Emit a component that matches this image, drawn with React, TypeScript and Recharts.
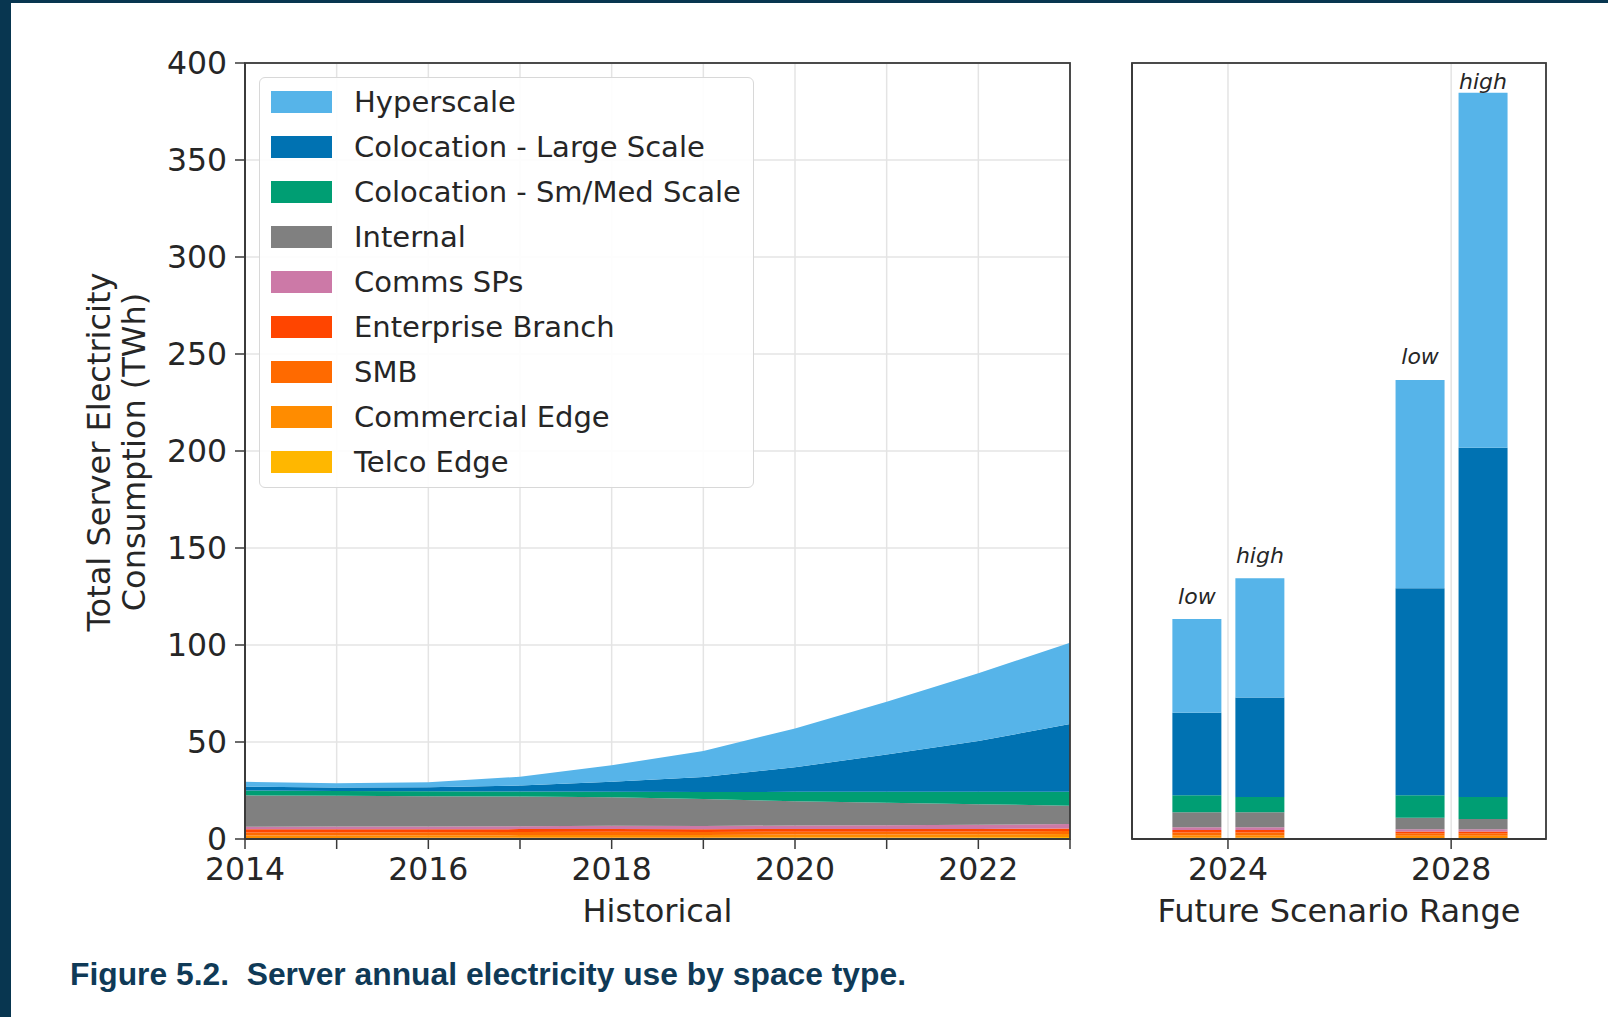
/**
 * ServerEnergyChart — historical stacked area (2014–2023) + future scenario stacked bars
 */

import React from 'react';
import {
  AreaChart,
  Area,
  BarChart,
  Bar,
  XAxis,
  YAxis,
  CartesianGrid,
  Legend,
  LabelList,
} from 'recharts';

const FONT = '"DejaVu Sans", sans-serif';
const TEXT = '#262626';
const SPINE = '#3a3a3a';
const GRID = '#e4e4e4';
const NAVY = '#083650';

// Space types, top of the stack first (legend order)
const SPACE_TYPES = [
  'Hyperscale',
  'Colocation - Large Scale',
  'Colocation - Sm/Med Scale',
  'Internal',
  'Comms SPs',
  'Enterprise Branch',
  'SMB',
  'Commercial Edge',
  'Telco Edge',
];

const COLORS: Record<string, string> = {
  'Hyperscale': '#56b4e9',
  'Colocation - Large Scale': '#0072b2',
  'Colocation - Sm/Med Scale': '#009e73',
  'Internal': '#808080',
  'Comms SPs': '#cc79a7',
  'Enterprise Branch': '#ff4500',
  'SMB': '#ff6a00',
  'Commercial Edge': '#ff8c00',
  'Telco Edge': '#ffb700',
};

const HIST_YEARS = [2014, 2015, 2016, 2017, 2018, 2019, 2020, 2021, 2022, 2023];
const Y_TICKS = [0, 50, 100, 150, 200, 250, 300, 350, 400];

// Historical TWh by space type
const hyperscale = [2.5, 2.1, 2.5, 4.5, 8.5, 13.4, 20.0, 27.3, 34.9, 41.9];
const colocationLarge = [2.0, 1.8, 2.1, 3.1, 5.2, 7.8, 12.7, 19.2, 26.1, 34.9];
const colocationSmMed = [2.5, 2.5, 2.5, 2.6, 2.8, 3.6, 4.8, 5.6, 6.5, 7.2];
const internal = [16.2, 15.9, 15.7, 15.3, 14.7, 13.9, 12.5, 11.6, 10.6, 9.5];
const commsSPs = [1.3, 1.4, 1.4, 1.5, 1.6, 1.7, 1.8, 1.9, 2.1, 2.3];
const enterpriseBranch = [1.6, 1.6, 1.5, 1.5, 1.5, 1.4, 1.4, 1.4, 1.3, 1.3];
const smb = [1.6, 1.6, 1.6, 1.6, 1.6, 1.5, 1.5, 1.5, 1.5, 1.5];
const commercialEdge = [1.3, 1.3, 1.3, 1.4, 1.4, 1.4, 1.5, 1.5, 1.5, 1.6];
const telcoEdge = [0.5, 0.5, 0.6, 0.6, 0.7, 0.7, 0.8, 0.8, 0.9, 1.0];

// Scenario years and TWh by space type: [2024, 2028]
const SCENARIO_YEARS = [2024, 2028];
const SCENARIOS = ['low', 'high'];

const hyperscaleLow = [48.3, 107.4];
const colocationLargeLow = [42.6, 106.7];
const colocationSmMedLow = [8.7, 11.5];
const internalLow = [7.8, 6.0];
const commsSPsLow = [1.4, 1.1];
const enterpriseBranchLow = [1.3, 1.0];
const smbLow = [1.4, 1.2];
const commercialEdgeLow = [1.3, 1.2];
const telcoEdgeLow = [0.6, 0.5];

const hyperscaleHigh = [61.5, 183.0];
const colocationLargeHigh = [51.3, 180.1];
const colocationSmMedHigh = [7.8, 11.3];
const internalHigh = [7.8, 5.3];
const commsSPsHigh = [1.4, 1.1];
const enterpriseBranchHigh = [1.3, 1.0];
const smbHigh = [1.4, 1.2];
const commercialEdgeHigh = [1.3, 1.2];
const telcoEdgeHigh = [0.6, 0.5];

const HISTORICAL = [
  hyperscale, colocationLarge, colocationSmMed, internal, commsSPs,
  enterpriseBranch, smb, commercialEdge, telcoEdge,
];
const SCENARIO_VALUES: Record<string, number[][]> = {
  low: [
    hyperscaleLow, colocationLargeLow, colocationSmMedLow, internalLow, commsSPsLow,
    enterpriseBranchLow, smbLow, commercialEdgeLow, telcoEdgeLow,
  ],
  high: [
    hyperscaleHigh, colocationLargeHigh, colocationSmMedHigh, internalHigh, commsSPsHigh,
    enterpriseBranchHigh, smbHigh, commercialEdgeHigh, telcoEdgeHigh,
  ],
};

const histRows = HIST_YEARS.map((year, i) => {
  const row: Record<string, number> = { year };
  SPACE_TYPES.forEach((_, s) => { row[`s${s}`] = HISTORICAL[s][i]; });
  return row;
});

const scenarioRows = SCENARIO_YEARS.map((year, i) => {
  const row: Record<string, number> = { year };
  SCENARIOS.forEach(sc => {
    SPACE_TYPES.forEach((_, s) => { row[`${sc}${s}`] = SCENARIO_VALUES[sc][s][i]; });
  });
  return row;
});

// bottom-up drawing order for stacks
const STACK_ORDER = SPACE_TYPES.map((_, s) => s).reverse();

// plot boxes (page pixels) used for chart margins and the spine frames
const PLOT_TOP = 63;
const PLOT_BOTTOM = 839;
const HIST_BOX = { left: 245, right: 1070 };
const SCEN_BOX = { left: 1132, right: 1546 };

const tickStyle = { fontSize: 31.5, fill: TEXT, fontFamily: FONT };
const tickLine = { stroke: SPINE, strokeWidth: 1.5 };
const axisLine = { stroke: SPINE, strokeWidth: 1.8 };

const LegendBox = () => (
  <div
    style={{
      width: 495,
      height: 411,
      boxSizing: 'border-box',
      border: '1.5px solid #d8d8d8',
      borderRadius: 6,
      background: 'rgba(255,255,255,0.9)',
      padding: '2px 0 0 11px',
      fontFamily: FONT,
    }}
  >
    {SPACE_TYPES.map(name => (
      <div key={name} style={{ display: 'flex', alignItems: 'center', height: 44.9 }}>
        <span style={{ width: 61, height: 22, background: COLORS[name], display: 'inline-block' }} />
        <span style={{ marginLeft: 22, fontSize: 29, color: TEXT, whiteSpace: 'nowrap' }}>{name}</span>
      </div>
    ))}
  </div>
);

const scenarioLabel = (text: string) => (props: any) => {
  const cx = Number(props.x) + Number(props.width) / 2;
  const cy = Math.max(Number(props.y) - 23, PLOT_TOP + 18);
  return (
    <text
      x={cx}
      y={cy}
      textAnchor="middle"
      dominantBaseline="central"
      fontStyle="italic"
      fontSize={22}
      fontFamily={FONT}
      fill={TEXT}
    >
      {text}
    </text>
  );
};

const HistoricalChart = () => (
  <AreaChart
    width={1080}
    height={960}
    data={histRows}
    margin={{ top: PLOT_TOP, right: 1080 - HIST_BOX.right, bottom: 960 - PLOT_BOTTOM - 60, left: HIST_BOX.left - 100 }}
  >
    <CartesianGrid stroke={GRID} strokeWidth={1.5} />
    <XAxis
      type="number"
      dataKey="year"
      domain={[2014, 2023]}
      ticks={HIST_YEARS}
      interval={0}
      tickFormatter={(v: number) => (v % 2 === 0 ? String(v) : '')}
      height={60}
      tick={tickStyle}
      tickLine={tickLine}
      axisLine={axisLine}
      tickSize={10}
      tickMargin={9}
      label={{ value: 'Historical', position: 'bottom', offset: 0, fontSize: 32, fill: TEXT, fontFamily: FONT }}
    />
    <YAxis
      type="number"
      domain={[0, 400]}
      ticks={Y_TICKS}
      width={100}
      tick={tickStyle}
      tickLine={tickLine}
      axisLine={axisLine}
      tickSize={10}
      tickMargin={8}
    />
    {STACK_ORDER.map(s => (
      <Area
        key={s}
        type="linear"
        dataKey={`s${s}`}
        name={SPACE_TYPES[s]}
        stackId="hist"
        stroke="none"
        fill={COLORS[SPACE_TYPES[s]]}
        fillOpacity={1}
        isAnimationActive={false}
      />
    ))}
    <Legend
      layout="vertical"
      align="center"
      verticalAlign="middle"
      content={() => <LegendBox />}
      wrapperStyle={{ left: 259, top: 77, width: 495, height: 411 }}
    />
  </AreaChart>
);

const ScenarioChart = () => (
  <BarChart
    width={528}
    height={960}
    data={scenarioRows}
    margin={{ top: PLOT_TOP, right: 1608 - SCEN_BOX.right, bottom: 960 - PLOT_BOTTOM - 60, left: SCEN_BOX.left - 1080 - 20 }}
    barGap={14}
  >
    <CartesianGrid stroke={GRID} strokeWidth={1.5} />
    <XAxis
      type="number"
      dataKey="year"
      domain={[2022.28, 2029.7]}
      ticks={SCENARIO_YEARS}
      interval={0}
      height={60}
      tick={tickStyle}
      tickLine={tickLine}
      axisLine={axisLine}
      tickSize={10}
      tickMargin={9}
      label={{ value: 'Future Scenario Range', position: 'bottom', offset: 0, fontSize: 32, fill: TEXT, fontFamily: FONT }}
    />
    <YAxis
      type="number"
      domain={[0, 400]}
      ticks={Y_TICKS}
      width={20}
      tick={false}
      tickLine={tickLine}
      axisLine={axisLine}
      tickSize={10}
    />
    {SCENARIOS.map(sc =>
      STACK_ORDER.map(s => (
        <Bar
          key={`${sc}${s}`}
          dataKey={`${sc}${s}`}
          stackId={sc}
          fill={COLORS[SPACE_TYPES[s]]}
          barSize={49}
          isAnimationActive={false}
        >
          {s === 0 && <LabelList content={scenarioLabel(sc)} />}
        </Bar>
      ))
    )}
  </BarChart>
);

export default function App() {
  return (
    <div
      style={{
        position: 'absolute',
        left: 0,
        top: 0,
        width: 1608,
        height: 1017,
        background: '#fff',
        overflow: 'hidden',
      }}
    >
      <div style={{ position: 'absolute', left: 0, top: 0, width: 11, height: 1017, background: NAVY }} />
      <div style={{ position: 'absolute', left: 0, top: 0, width: 1608, height: 3, background: NAVY }} />

      <div style={{ position: 'absolute', left: 0, top: 0 }}>
        <HistoricalChart />
      </div>
      <div style={{ position: 'absolute', left: 1080, top: 0 }}>
        <ScenarioChart />
      </div>

      {/* spine frames, y-axis title and figure caption */}
      <svg width={1608} height={1017} style={{ position: 'absolute', left: 0, top: 0, pointerEvents: 'none' }}>
        {[HIST_BOX, SCEN_BOX].map(box => (
          <rect
            key={box.left}
            x={box.left}
            y={PLOT_TOP}
            width={box.right - box.left}
            height={PLOT_BOTTOM - PLOT_TOP}
            fill="none"
            stroke={SPINE}
            strokeWidth={1.8}
          />
        ))}
        <g fontFamily={FONT} fontSize={32} fill={TEXT} textAnchor="middle" dominantBaseline="central">
          <text x={99} y={452} transform="rotate(-90 99 452)">Total Server Electricity</text>
          <text x={134} y={452} transform="rotate(-90 134 452)">Consumption (TWh)</text>
        </g>
        <text
          x={70}
          y={985}
          fontFamily='"Liberation Sans", Arial, sans-serif'
          fontWeight="bold"
          fontSize={31}
          fill="#0f3a57"
          textLength={836}
          lengthAdjust="spacingAndGlyphs"
          style={{ whiteSpace: 'pre' }}
        >
          {'Figure 5.2.  Server annual electricity use by space type.'}
        </text>
      </svg>
    </div>
  );
}
